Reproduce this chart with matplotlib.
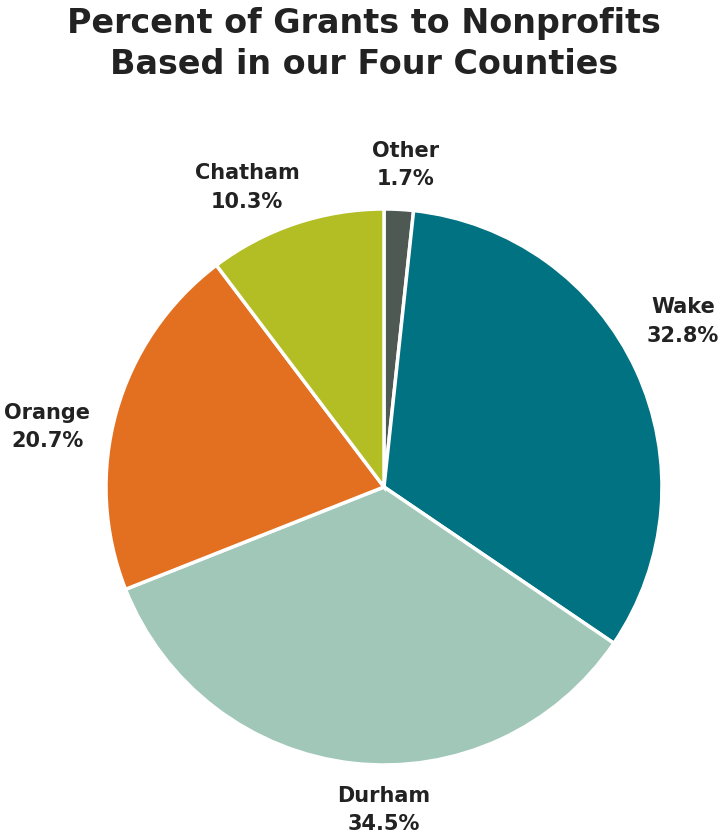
import matplotlib
matplotlib.use("Agg")
import matplotlib.pyplot as plt

categories = ["Other", "Wake", "Durham", "Orange", "Chatham"]
values = [1.7, 32.8, 34.5, 20.7, 10.3]
colors = ["#4f5953", "#007281", "#a1c7b9", "#e27020", "#b3bd24"]
label_pos = [(0.076, 1.158), (1.076, 0.594), (0.0, -1.162), (-1.212, 0.216), (-0.493, 1.076)]

plt.rcParams['font.family'] = ['DejaVu Sans']
fig = plt.figure(figsize=(7.28, 8.4), dpi=100)
fig.patch.set_facecolor("white")

fig.text(0.5, 0.992, "Percent of Grants to Nonprofits\nBased in our Four Counties",
         ha="center", va="top", fontsize=24, fontweight="bold", color="#222222",
         linespacing=1.3)

ax = fig.add_axes([0.1456, 0.0893, 0.7637, 0.6619])
ax.pie(values, colors=colors, startangle=90, counterclock=False,
       wedgeprops=dict(edgecolor="white", linewidth=2.5))
ax.set_xlim(-1, 1)
ax.set_ylim(-1, 1)
ax.set_aspect("equal")
ax.axis("off")

for name, val, (x, y) in zip(categories, values, label_pos):
    ax.text(x, y, f"{name}\n{val}%", ha="center", va="center", fontsize=15,
            fontweight="bold", color="#222222", linespacing=1.55, clip_on=False)

fig.savefig("out.png", dpi=100, facecolor="white")
